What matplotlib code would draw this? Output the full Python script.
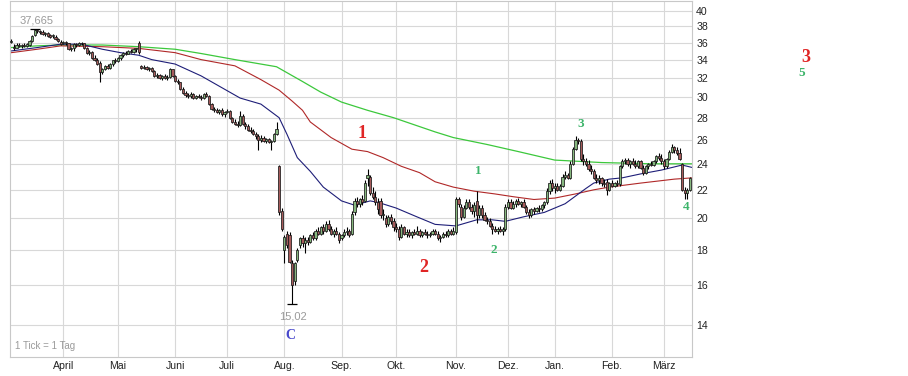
import numpy as np
import matplotlib.pyplot as plt
from matplotlib.ticker import FixedLocator, NullLocator

# daily candles (1 Tick = 1 Tag)
opens = [
    36.1, 35.5, 35.4, 35.7, 35.6, 35.7, 35.6, 35.7, 36.2, 36.9,
    37.5, 37.4, 37.3, 37.1, 37.2, 36.9, 36.8, 36.7, 36.4, 36.1,
    36.0, 36.1, 35.9, 35.2, 35.3, 35.8, 35.7, 36.0, 35.9, 35.3,
    34.8, 34.9, 34.2, 34.0, 33.6, 32.6, 32.9, 33.3, 33.1, 33.5,
    33.9, 33.8, 34.2, 34.5, 34.8, 34.7, 35.0, 34.9, 35.2, 36.0,
    33.3, 33.1, 33.2, 32.9, 33.1, 32.7, 32.2, 32.3, 32.0, 32.2,
    32.0, 32.1, 32.9, 32.2, 31.7, 31.5, 30.8, 30.4, 30.2, 30.1,
    30.3, 29.9, 30.1, 30.0, 29.9, 30.3, 30.1, 29.3, 28.8, 28.7,
    28.5, 28.7, 28.3, 28.5, 28.6, 28.0, 27.6, 27.4, 27.3, 28.2,
    27.4, 27.2, 26.9, 26.8, 26.5, 26.3, 26.0, 26.2, 25.9, 26.1,
    25.8, 25.9, 26.5, 23.8, 20.5, 18.0, 19.0, 18.9, 17.2, 16.2,
    17.4, 18.3, 18.7, 18.4, 18.6, 18.5, 18.9, 18.7, 19.2, 19.0,
    19.4, 19.2, 19.6, 19.3, 19.0, 19.2, 19.0, 18.7, 18.9, 19.1,
    19.2, 19.0, 20.4, 21.2, 21.0, 21.3, 21.2, 22.9, 23.0, 21.8,
    21.5, 21.1, 21.2, 20.2, 20.0, 19.6, 20.1, 19.8, 19.4, 19.3,
    18.8, 19.4, 19.0, 19.1, 18.9, 19.1, 19.0, 19.2, 18.9, 19.1,
    19.0, 18.9, 19.0, 19.2, 19.0, 18.7, 18.8, 19.0, 18.9, 19.2,
    19.0, 19.1, 21.3, 20.8, 20.1, 20.7, 21.1, 20.8, 20.5, 21.2,
    20.2, 20.7, 20.2, 19.9, 19.8, 19.5, 19.3, 19.2, 19.3, 19.2,
    19.3, 20.8, 21.1, 20.7, 21.0, 21.2, 21.0, 21.1, 20.8, 20.4,
    20.2, 20.6, 20.5, 20.7, 20.6, 20.9, 21.1, 21.9, 22.5, 22.1,
    22.3, 22.0, 22.3, 23.0, 23.1, 22.9, 24.0, 25.2, 26.0, 25.9,
    24.4, 24.2, 24.0, 23.6, 23.4, 22.9, 22.7, 22.9, 22.5, 22.6,
    22.0, 22.5, 22.3, 22.5, 22.4, 23.8, 24.2, 24.3, 24.0, 24.2,
    24.0, 23.8, 24.2, 23.7, 23.3, 23.8, 24.0, 23.9, 24.2, 24.6,
    24.5, 24.2, 23.8, 24.4, 25.0, 25.4, 25.1, 24.9, 24.0, 22.0,
    21.8, 22.0,
]
highs = [
    36.4, 35.8, 35.9, 35.9, 35.8, 35.9, 35.9, 36.3, 36.9, 37.7,
    37.665, 37.6, 37.5, 37.3, 37.3, 37.1, 37.0, 36.9, 36.6, 36.3,
    36.2, 36.2, 36.0, 35.5, 35.9, 36.0, 36.1, 36.1, 36.0, 35.5,
    35.1, 35.0, 34.5, 34.2, 33.8, 33.1, 33.4, 33.5, 33.6, 34.0,
    34.2, 34.3, 34.6, 34.9, 35.0, 35.1, 35.2, 35.3, 35.4, 36.2,
    33.4, 33.4, 33.3, 33.2, 33.2, 32.8, 32.5, 32.4, 32.3, 32.4,
    32.3, 33.1, 33.0, 32.3, 31.9, 31.6, 31.0, 30.6, 30.4, 30.5,
    30.4, 30.2, 30.3, 30.2, 30.4, 30.5, 30.2, 29.4, 29.0, 28.9,
    28.8, 28.9, 28.6, 28.8, 28.7, 28.1, 27.9, 27.7, 28.6, 28.3,
    27.6, 27.4, 27.1, 27.0, 26.7, 26.5, 26.4, 26.3, 26.2, 26.2,
    26.0, 26.6, 27.6, 23.9, 20.7, 18.9, 19.2, 19.1, 17.4, 17.3,
    18.1, 18.8, 18.9, 18.8, 18.8, 19.0, 19.1, 19.3, 19.4, 19.5,
    19.6, 19.8, 19.9, 19.5, 19.3, 19.4, 19.1, 19.0, 19.3, 19.4,
    19.3, 20.5, 21.4, 21.5, 21.4, 21.6, 22.7, 23.6, 23.1, 22.2,
    21.9, 21.4, 21.4, 20.6, 20.2, 20.2, 20.3, 20.0, 19.7, 19.5,
    19.6, 19.5, 19.3, 19.3, 19.2, 19.3, 19.5, 19.3, 19.2, 19.3,
    19.2, 19.1, 19.3, 19.3, 19.2, 18.9, 19.1, 19.2, 19.3, 19.3,
    19.4, 21.5, 21.5, 21.0, 20.9, 21.3, 21.3, 21.0, 21.1, 21.9,
    20.9, 20.9, 20.4, 20.1, 20.0, 19.7, 19.5, 19.4, 19.5, 19.4,
    21.0, 21.3, 21.3, 21.2, 21.3, 21.4, 21.2, 21.3, 20.9, 20.6,
    20.7, 20.8, 20.8, 20.9, 21.0, 21.2, 22.1, 22.7, 22.8, 22.5,
    22.5, 22.4, 23.2, 23.4, 23.3, 24.2, 25.4, 26.3, 26.2, 26.1,
    24.8, 24.5, 24.3, 23.9, 23.6, 23.2, 23.1, 23.0, 22.8, 22.8,
    22.6, 22.7, 22.6, 22.7, 23.9, 24.4, 24.5, 24.5, 24.3, 24.5,
    24.3, 24.3, 24.3, 23.9, 23.9, 24.1, 24.2, 24.3, 24.7, 24.9,
    24.8, 24.4, 24.5, 25.1, 25.6, 25.5, 25.4, 25.3, 24.1, 22.2,
    22.1, 23.0,
]
lows = [
    35.9, 35.1, 35.3, 35.5, 35.4, 35.5, 35.5, 35.6, 36.1, 36.8,
    37.2, 37.1, 36.9, 36.8, 36.7, 36.6, 36.5, 36.3, 36.1, 35.7,
    35.8, 35.7, 35.1, 35.0, 35.0, 35.5, 35.6, 35.7, 35.2, 34.7,
    34.5, 34.1, 33.8, 33.4, 31.5, 32.4, 32.8, 32.9, 33.0, 33.3,
    33.6, 33.7, 34.0, 34.3, 34.5, 34.6, 34.8, 34.8, 34.9, 34.6,
    32.9, 32.9, 32.8, 32.7, 32.6, 32.1, 32.0, 31.9, 31.8, 31.9,
    31.8, 32.0, 32.1, 31.6, 31.3, 30.7, 30.3, 30.0, 29.9, 29.9,
    29.8, 29.8, 29.9, 29.7, 29.8, 30.0, 29.2, 28.7, 28.5, 28.4,
    28.3, 28.2, 28.1, 28.4, 27.9, 27.5, 27.3, 27.1, 27.2, 27.3,
    27.0, 26.8, 26.6, 26.4, 26.1, 25.1, 25.8, 25.8, 25.7, 25.7,
    25.1, 25.8, 26.4, 20.2, 19.2, 17.2, 18.1, 17.2, 15.02, 16.0,
    17.3, 18.1, 18.2, 17.8, 18.3, 18.4, 18.6, 18.6, 18.9, 18.9,
    19.0, 19.1, 19.2, 18.9, 18.8, 18.9, 18.4, 18.6, 18.8, 18.9,
    18.8, 18.9, 20.2, 20.8, 20.8, 20.9, 21.1, 22.3, 21.6, 21.3,
    20.9, 20.3, 20.0, 19.9, 19.4, 19.5, 19.6, 19.2, 19.1, 18.6,
    18.7, 18.9, 18.8, 18.8, 18.7, 18.9, 18.9, 18.8, 18.8, 18.9,
    18.7, 18.8, 18.9, 18.9, 18.6, 18.5, 18.7, 18.8, 18.8, 18.9,
    18.9, 19.0, 20.8, 19.9, 20.0, 20.6, 20.6, 20.3, 20.1, 19.7,
    20.0, 20.0, 19.8, 19.6, 19.4, 19.0, 19.1, 19.0, 19.1, 18.9,
    19.2, 20.6, 20.6, 20.6, 20.8, 20.9, 20.8, 20.7, 20.3, 20.0,
    20.1, 20.3, 20.4, 20.4, 20.5, 20.7, 21.0, 21.7, 21.9, 21.8,
    21.9, 21.9, 22.2, 22.8, 22.8, 22.8, 23.9, 25.1, 25.6, 24.2,
    23.9, 23.8, 23.4, 23.2, 22.8, 22.5, 22.4, 22.3, 22.2, 21.6,
    21.9, 22.2, 22.2, 22.3, 22.3, 23.7, 24.0, 23.8, 23.7, 23.9,
    23.7, 23.7, 23.6, 23.1, 23.2, 23.6, 23.8, 23.8, 24.1, 24.3,
    24.0, 23.6, 23.7, 24.3, 24.9, 24.9, 24.7, 24.3, 21.9, 21.3,
    21.3, 21.9,
]
closes = [
    36.1, 35.3, 35.7, 35.6, 35.7, 35.6, 35.8, 36.2, 36.8, 37.5,
    37.4, 37.3, 37.0, 37.2, 36.8, 36.7, 36.9, 36.4, 36.2, 35.8,
    36.1, 35.9, 35.2, 35.3, 35.8, 35.7, 36.0, 35.9, 35.3, 34.8,
    34.9, 34.2, 34.0, 33.5, 32.6, 32.9, 33.3, 33.1, 33.5, 33.9,
    33.8, 34.2, 34.5, 34.8, 34.7, 35.0, 34.9, 35.2, 35.3, 34.9,
    33.1, 33.2, 32.9, 33.1, 32.7, 32.2, 32.3, 32.0, 32.2, 32.0,
    32.1, 32.9, 32.2, 31.7, 31.5, 30.8, 30.4, 30.2, 30.1, 30.3,
    29.9, 30.1, 30.0, 29.9, 30.3, 30.1, 29.3, 28.8, 28.7, 28.5,
    28.7, 28.3, 28.5, 28.6, 28.0, 27.6, 27.4, 27.3, 28.2, 27.4,
    27.2, 26.9, 26.8, 26.5, 26.3, 26.0, 26.2, 25.9, 26.1, 25.8,
    25.9, 26.5, 27.0, 20.4, 19.3, 18.8, 18.3, 17.3, 16.0, 17.2,
    18.0, 18.7, 18.4, 18.6, 18.5, 18.9, 18.7, 19.2, 19.0, 19.4,
    19.2, 19.6, 19.3, 19.0, 19.2, 19.0, 18.6, 18.9, 19.1, 19.2,
    18.9, 20.3, 21.2, 21.0, 21.3, 21.1, 22.5, 23.1, 21.8, 21.5,
    21.1, 20.6, 20.2, 20.3, 19.6, 20.1, 19.8, 19.4, 19.3, 18.8,
    19.4, 19.0, 19.1, 18.9, 19.1, 19.0, 19.2, 18.9, 19.1, 19.0,
    18.9, 19.0, 19.2, 19.0, 18.7, 18.8, 19.0, 18.9, 19.2, 19.0,
    19.2, 21.3, 21.0, 20.1, 20.7, 21.1, 20.8, 20.5, 20.9, 20.2,
    20.7, 20.2, 19.9, 19.8, 19.5, 19.3, 19.2, 19.3, 19.2, 19.3,
    20.8, 21.1, 20.7, 21.0, 21.2, 21.0, 21.1, 20.8, 20.4, 20.2,
    20.6, 20.5, 20.7, 20.6, 20.9, 21.1, 21.9, 22.5, 22.1, 22.3,
    22.0, 22.3, 23.0, 23.1, 22.9, 24.0, 25.2, 26.0, 25.9, 24.4,
    24.2, 24.0, 23.6, 23.4, 22.9, 22.7, 22.9, 22.5, 22.4, 22.0,
    22.5, 22.3, 22.5, 22.4, 23.8, 24.2, 24.3, 24.0, 24.2, 24.0,
    23.8, 24.2, 23.7, 23.3, 23.8, 24.0, 23.9, 24.2, 24.6, 24.5,
    24.2, 23.8, 24.4, 25.0, 25.4, 25.1, 24.9, 24.4, 22.0, 21.8,
    22.0, 22.9,
]

# moving averages, sampled along the lines
ma_fast_days = [0, 10, 19, 27, 35, 42, 49, 54, 63, 73, 88, 96, 103, 106, 110,
                115, 120, 127, 132, 138, 141, 148, 156, 163, 171, 179, 185,
                190, 197, 205, 213, 221, 224, 230, 235, 242, 250, 258, 262]
ma_fast = [35.0, 35.4, 35.8, 35.8, 35.2, 34.8, 34.5, 34.0, 33.5, 32.2, 29.9,
           29.3, 28.0, 26.5, 24.5, 23.4, 22.2, 21.2, 20.9, 21.2, 21.1, 20.7,
           20.1, 19.6, 19.5, 19.9, 19.9, 19.8, 20.1, 20.4, 21.0, 22.1, 22.5,
           22.8, 22.9, 23.2, 23.5, 23.9, 23.7]
ma_mid_days = [0, 10, 19, 35, 49, 63, 73, 86, 96, 103, 108, 112, 115, 123, 131,
               137, 143, 150, 157, 163, 170, 178, 186, 193, 201, 209, 217, 224,
               230, 242, 255, 262]
ma_mid = [34.8, 35.2, 35.6, 35.5, 35.3, 34.8, 34.0, 33.3, 31.8, 30.7, 29.6,
          28.7, 27.6, 26.2, 25.2, 25.0, 24.5, 23.8, 23.3, 22.6, 22.2, 21.9,
          21.7, 21.5, 21.3, 21.4, 21.7, 22.0, 22.2, 22.5, 22.8, 22.9]
ma_slow_days = [0, 10, 19, 35, 49, 63, 73, 86, 102, 112, 119, 127, 137, 147,
                163, 170, 183, 195, 209, 227, 246, 262]
ma_slow = [35.4, 35.6, 35.7, 35.7, 35.5, 35.2, 34.7, 34.0, 33.2, 31.6, 30.5,
           29.5, 28.7, 28.0, 26.7, 26.2, 25.6, 25.0, 24.3, 24.1, 24.0, 24.0]

month_days = [20, 41, 63, 83, 105, 127, 148, 171, 191, 209, 231, 251]
month_labels = ['April', 'Mai', 'Juni', 'Juli', 'Aug.', 'Sep.', 'Okt.',
                'Nov.', 'Dez.', 'Jan.', 'Feb.', 'März']
price_ticks = [14, 16, 18, 20, 22, 24, 26, 28, 30, 32, 34, 36, 38, 40]

plt.rcParams['font.family'] = ['Liberation Sans', 'DejaVu Sans']

fig = plt.figure(figsize=(9.08, 3.76), dpi=100)
ax = fig.add_axes([10 / 908, 19 / 376, 682 / 908, 356 / 376])
ax.set_yscale('log')

days = np.arange(len(closes))
o = np.array(opens)
c = np.array(closes)
up = c >= o

# candles
ax.vlines(days, lows, highs, color='black', lw=0.8, zorder=3)
lo = np.minimum(o, c)
hgt = np.maximum(np.abs(c - o), 0.06)
ax.bar(days, hgt, bottom=lo, width=0.88,
       color=np.where(up, '#86b77e', '#a65b5b'),
       edgecolor='#1a1a1a', linewidth=0.55, zorder=4)

# marks at the extreme high / low
i_hi = int(np.argmax(highs))
i_lo = int(np.argmin(lows))
ax.hlines(highs[i_hi], i_hi - 2, i_hi + 2, color='black', lw=0.9, zorder=4)
ax.hlines(lows[i_lo], i_lo - 2, i_lo + 2, color='black', lw=0.9, zorder=4)

# moving averages
ax.plot(ma_slow_days, ma_slow, color='#3cc83c', lw=0.9, zorder=2)
ax.plot(ma_mid_days, ma_mid, color='#b02828', lw=0.8, zorder=2)
ax.plot(ma_fast_days, ma_fast, color='#1e1e78', lw=0.8, zorder=2)

ax.set_xlim(-0.5, 261.8)
ax.set_ylim(12.58, 41.36)

ax.yaxis.tick_right()
ax.yaxis.set_major_locator(FixedLocator(price_ticks))
ax.yaxis.set_minor_locator(NullLocator())
ax.set_yticklabels([str(t) for t in price_ticks])
ax.set_xticks(month_days)
ax.set_xticklabels(month_labels)
ax.tick_params(axis='both', length=0, labelsize=7.6, colors='#222222')
ax.tick_params(axis='y', pad=3)
ax.tick_params(axis='x', pad=3)

ax.grid(True, color='#d8d8d8', lw=0.8)
ax.set_axisbelow(True)
for s in ax.spines.values():
    s.set_color('#c8c8c8')
    s.set_linewidth(0.8)

# labels
gray = '#9a9a9a'
ax.text(9.9, 38.8, '37,665', ha='center', va='center', color=gray, fontsize=8)
ax.text(108.3, 14.42, '15,02', ha='center', va='center', color=gray, fontsize=8)
ax.text(0.007, 0.018, '1 Tick = 1 Tag', transform=ax.transAxes,
        ha='left', va='bottom', color=gray, fontsize=7)

serif = dict(family='Liberation Serif', fontweight='bold',
             ha='center', va='center')
red = '#e02525'
green = '#3cb46a'
ax.text(107.2, 13.54, 'C', color='#4848cc', fontsize=10, **serif)
ax.text(134.9, 26.6, '1', color=red, fontsize=13, **serif)
ax.text(158.7, 16.99, '2', color=red, fontsize=13, **serif)
ax.text(179.5, 23.4, '1', color=green, fontsize=9.5, **serif)
ax.text(185.7, 17.99, '2', color=green, fontsize=9.5, **serif)
ax.text(219.1, 27.4, '3', color=green, fontsize=9.5, **serif)
ax.text(259.5, 20.77, '4', color=green, fontsize=9.5, **serif)
fig.text(806 / 908, 1 - 57 / 376, '3', color=red, fontsize=13, **serif)
fig.text(802 / 908, 1 - 73 / 376, '5', color=green, fontsize=9.5, **serif)

fig.savefig('out.png', dpi=100, facecolor='white')
